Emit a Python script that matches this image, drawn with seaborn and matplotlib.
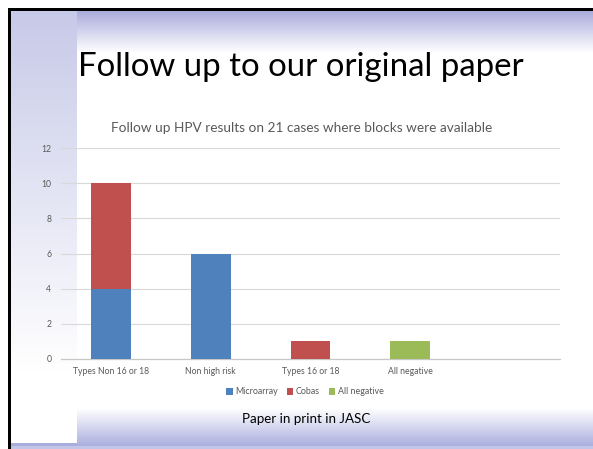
import numpy as np
import pandas as pd
import matplotlib
matplotlib.use("Agg")
import matplotlib.pyplot as plt
import seaborn as sns
from matplotlib.patches import Patch

# HPV follow-up results by category
categories = ["Types Non 16 or 18", "Non high risk", "Types 16 or 18", "All negative"]
microarray = [4, 6, 0, 0]
cobas = [6, 0, 1, 0]
all_negative = [0, 0, 0, 1]
y_ticks = [0, 2, 4, 6, 8, 10, 12]

series_names = ["Microarray", "Cobas", "All negative"]
series_colors = ["#4F81BD", "#C0504D", "#9BBB59"]

sns.set_theme(style="white")
plt.rcParams["font.family"] = ["Lato", "DejaVu Sans"]

W, H = 593, 449
fig = plt.figure(figsize=(W / 100, H / 100), dpi=100)

# ---- slide background ----
bg = np.ones((H, W, 3))
lav = np.array([0.78, 0.79, 0.91])
top_col = np.array([0.66, 0.67, 0.86])
bot_col = np.array([0.66, 0.68, 0.87])
# left band fading downward
for y in range(10, 380):
    t = max(0.0, 1 - (y - 10) / 360.0)
    bg[y, 10:77] = 1 - t * (1 - lav)
# top gradient band
for y in range(10, 52):
    t = 1 - (y - 10) / 42.0
    bg[y, 77:] = 1 - t * (1 - top_col)
# bottom gradient band
for y in range(408, 446):
    t = (y - 408) / 38.0
    bg[y, 77:] = 1 - t * (1 - bot_col)
bg[443:446, 10:77] = bot_col
bg[446:, :] = np.array([0.76, 0.78, 0.91])
# dark frame lines
bg[8:11, 8:] = 0.0
bg[8:, 8:11] = 0.0
bg[:8, :] = 1.0
bg[:, :8] = 1.0

bg_ax = fig.add_axes([0, 0, 1, 1], zorder=0)
bg_ax.imshow(bg, aspect="auto", extent=[0, W, H, 0], interpolation="bilinear")
bg_ax.axis("off")

# ---- chart ----
ax = fig.add_axes([61 / W, 1 - 359 / H, 499 / W, 211 / H], zorder=1)
ax.patch.set_alpha(0)

df = pd.DataFrame({"category": categories, "Microarray": microarray,
                   "Cobas": cobas, "All negative": all_negative})

bottoms = np.zeros(len(categories))
for name, color in zip(series_names, series_colors):
    sns.barplot(data=df, x="category", y=name, color=color, width=0.4,
                bottom=bottoms, ax=ax, saturation=1, edgecolor="none",
                order=categories, zorder=3)
    bottoms = bottoms + df[name].to_numpy()

ax.set_xlim(-0.5, 4.5)
ax.set_ylim(0, 12)
ax.set_yticks(y_ticks)
ax.set_yticklabels([str(v) for v in y_ticks])
ax.set_xlabel("")
ax.set_ylabel("")
ax.grid(axis="y", color="#d9d9d9", linewidth=0.8, zorder=0)
ax.grid(axis="x", visible=False)
for s in ["top", "right", "left"]:
    ax.spines[s].set_visible(False)
ax.spines["bottom"].set_color("#c8c8c8")
ax.spines["bottom"].set_linewidth(0.9)
ax.tick_params(axis="both", length=0, labelsize=6.2, colors="#595959")
ax.tick_params(axis="y", pad=7)
ax.tick_params(axis="x", pad=6)

# chart title
fig.text(302 / W, 1 - 128 / H,
         "Follow up HPV results on 21 cases where blocks were available",
         ha="center", va="center", fontsize=9.8, color="#595959")

# legend
handles = [Patch(facecolor=c, edgecolor="none", label=n)
           for n, c in zip(series_names, series_colors)]
leg = fig.legend(handles=handles, loc="center", bbox_to_anchor=(305 / W, 1 - 392 / H),
                 ncol=3, frameon=False, fontsize=6.4, handlelength=0.7,
                 handleheight=0.7, handletextpad=0.3, columnspacing=1.0)
for t in leg.get_texts():
    t.set_color("#595959")

# slide title and footnote
fig.text(301 / W, 1 - 67 / H, "Follow up to our original paper",
         ha="center", va="center", fontsize=23.8, color="black")
fig.text(306 / W, 1 - 419 / H, "Paper in print in JASC",
         ha="center", va="center", fontsize=9.6, color="black")

fig.savefig("out.png", dpi=100)
